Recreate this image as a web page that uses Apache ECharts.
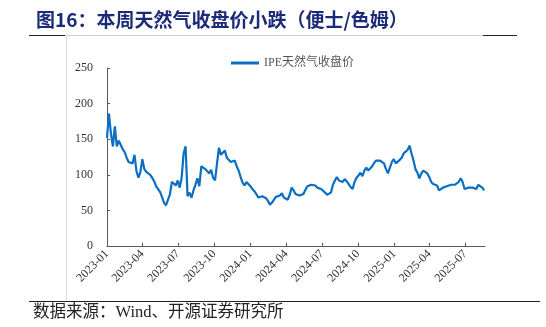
<!DOCTYPE html>
<html>
<head>
<meta charset="utf-8">
<script src="https://cdn.jsdelivr.net/npm/echarts@6/dist/echarts.min.js"></script>
<style>
  html, body { margin: 0; padding: 0; background: #fff; }
  #chart { width: 546px; height: 327px; }
</style>
</head>
<body>
<div id="chart"></div>
<script>
// IPE natural gas close, pence/therm, sampled every 5 days from 2023-01-01
const startDate = [2023, 1, 1];
const stepDays = 5;
const seriesName = 'IPE天然气收盘价';
const prices = [
  152, 186, 158, 140, 168, 140, 148, 146, 136, 132,
  124, 118, 117, 116, 128, 105, 96, 104, 122, 108,
  104, 102, 100, 96, 91, 84, 80, 76, 69, 61,
  57, 58, 72, 90, 92, 85, 92, 82, 96, 130,
  140, 70, 75, 68, 78, 86, 95, 84, 112, 112,
  108, 110, 102, 107, 96, 92, 116, 138, 128, 126,
  134, 124, 122, 118, 118, 120, 112, 106, 97, 89,
  85, 90, 92, 84, 80, 77, 73, 68, 70, 70,
  72, 67, 63, 58, 61, 65, 69, 67, 71, 74,
  68, 70, 65, 72, 82, 78, 73, 73, 71, 73,
  73, 79, 84, 82, 86, 84, 85, 82, 80, 80,
  78, 75, 72, 74, 75, 86, 92, 97, 92, 91,
  90, 94, 91, 87, 83, 80, 90, 96, 99, 103,
  98, 106, 110, 106, 104, 112, 117, 120, 122, 120,
  121, 116, 108, 102, 110, 118, 122, 116, 118, 121,
  124, 130, 129, 135, 141, 130, 120, 108, 103, 95,
  102, 106, 106, 102, 97, 90, 87, 86, 85, 78,
  77, 82, 83, 84, 82, 86, 84, 86, 86, 90,
  95, 90, 80, 82, 82, 84, 82, 82, 80, 86,
  84, 82, 78
];
// quarter starts shown on the x axis
const quarterTicks = [
  '2023-01', '2023-04', '2023-07', '2023-10',
  '2024-01', '2024-04', '2024-07', '2024-10',
  '2025-01', '2025-04', '2025-07'
];
const axisEnd = [2025, 8, 20];
const yTicks = [0, 50, 100, 150, 200, 250];

const titleText = '图16：本周天然气收盘价小跌（便士/色姆）';
const sourceText = '数据来源：Wind、开源证券研究所';

function ts(y, m, d) { return new Date(y, m - 1, d).getTime(); }
const t0 = ts(startDate[0], startDate[1], startDate[2]);
const DAY = 86400000;
const points = prices.map((v, i) => [t0 + i * stepDays * DAY, v]);
const tickValues = quarterTicks.map(s => {
  const [y, m] = s.split('-').map(Number);
  return ts(y, m, 1);
});

const serif = '"Liberation Serif", "Noto Sans CJK SC", serif';
const chart = echarts.init(document.getElementById('chart'), null, { renderer: 'canvas' });

chart.setOption({
  backgroundColor: '#ffffff',
  animation: false,
  title: {
    text: titleText,
    left: 31,
    top: 5,
    textStyle: {
      fontFamily: '"Noto Sans CJK SC", sans-serif',
      fontWeight: 'bold',
      fontSize: 19,
      color: '#1c2a7a'
    }
  },
  legend: {
    data: [seriesName],
    left: 226,
    top: 52,
    itemWidth: 28,
    itemHeight: 3,
    itemGap: 6,
    icon: 'rect',
    textStyle: { fontFamily: serif, fontSize: 12, color: '#555' }
  },
  grid: { left: 107, right: 61, top: 68, bottom: 81, containLabel: false },
  xAxis: {
    // dates as millisecond timestamps on a numeric axis, ticks at quarter starts
    type: 'value',
    min: t0,
    max: ts(axisEnd[0], axisEnd[1], axisEnd[2]),
    scale: true,
    splitLine: { show: false },
    axisLine: { lineStyle: { color: '#595959', width: 1 } },
    axisTick: { show: true, inside: true, length: 3, customValues: tickValues, lineStyle: { color: '#595959' } },
    axisLabel: {
      customValues: tickValues,
      rotate: 45,
      margin: 6,
      fontFamily: serif,
      fontSize: 12,
      color: '#333',
      formatter: function (v) {
        const d = new Date(v);
        const m = d.getMonth() + 1;
        return d.getFullYear() + '-' + (m < 10 ? '0' + m : m);
      }
    }
  },
  yAxis: {
    type: 'value',
    min: yTicks[0],
    max: yTicks[yTicks.length - 1],
    interval: 50,
    splitLine: { show: false },
    axisLine: { show: true, lineStyle: { color: '#595959', width: 1 } },
    axisTick: { show: true, inside: true, length: 3, lineStyle: { color: '#595959' } },
    axisLabel: { fontFamily: serif, fontSize: 12, color: '#333', margin: 14 }
  },
  series: [{
    name: seriesName,
    type: 'line',
    data: points,
    showSymbol: false,
    symbol: 'none',
    lineStyle: { color: '#0a6fc2', width: 2.2 },
    itemStyle: { color: '#0a6fc2' }
  }],
  graphic: [
    { type: 'line', shape: { x1: 29, y1: 35.5, x2: 65, y2: 35.5 }, style: { stroke: '#222', lineWidth: 1.2 }, silent: true },
    { type: 'line', shape: { x1: 65, y1: 35.5, x2: 483, y2: 35.5 }, style: { stroke: '#cfcfcf', lineWidth: 1 }, silent: true },
    { type: 'line', shape: { x1: 483, y1: 35.5, x2: 517, y2: 35.5 }, style: { stroke: '#222', lineWidth: 1.2 }, silent: true },
    { type: 'line', shape: { x1: 66.5, y1: 36, x2: 66.5, y2: 300 }, style: { stroke: '#dadada', lineWidth: 1 }, silent: true },
    { type: 'line', shape: { x1: 29, y1: 301.5, x2: 540, y2: 301.5 }, style: { stroke: '#222', lineWidth: 1 }, silent: true },
    {
      type: 'text', left: 33, top: 304, silent: true,
      style: { text: sourceText, fontFamily: serif, fontSize: 16.5, fill: '#222' }
    }
  ]
});
</script>
</body>
</html>
